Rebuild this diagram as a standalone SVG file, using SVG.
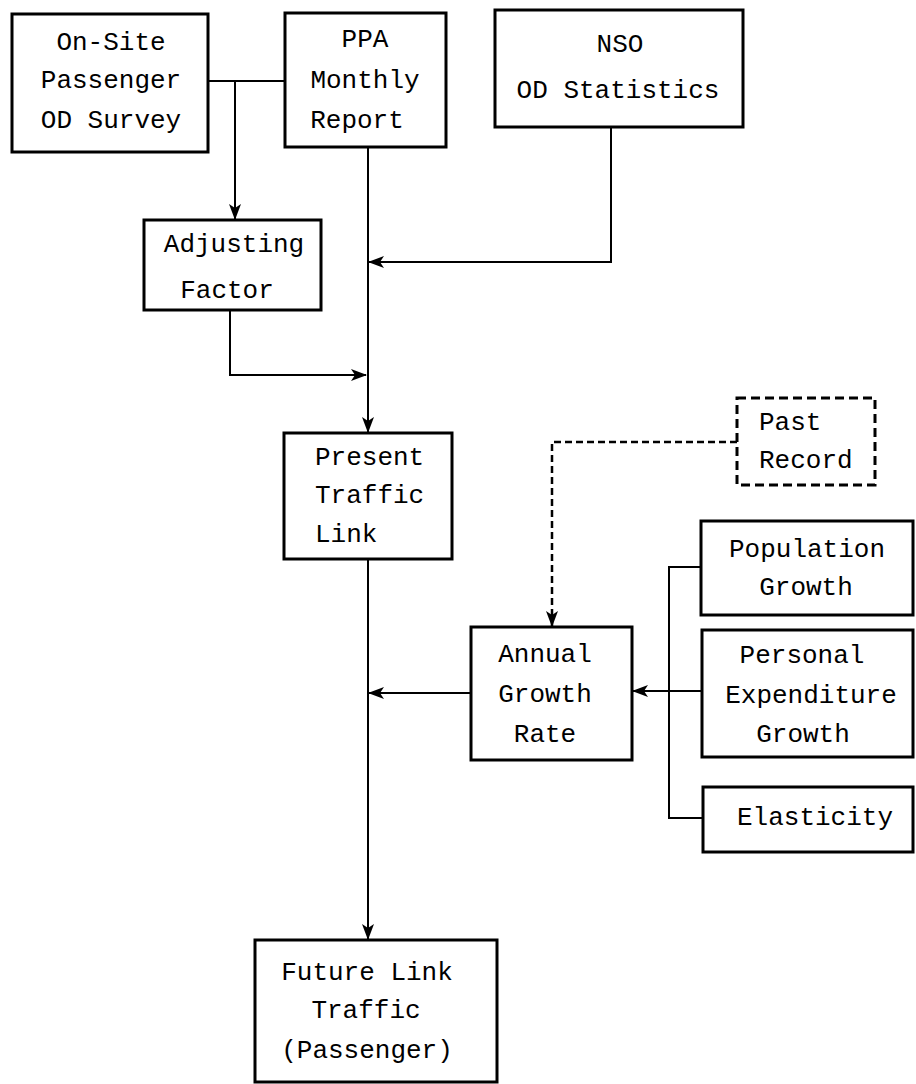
<svg xmlns="http://www.w3.org/2000/svg" width="916" height="1084" viewBox="0 0 916 1084">
<defs>
<style>
.box{fill:#fff;stroke:#000;stroke-width:3}
.dash{fill:#fff;stroke:#000;stroke-width:3;stroke-dasharray:9 5}
.t{font-family:"Liberation Mono","Courier New",monospace;font-size:26px;fill:#000;text-anchor:middle}
.s{text-anchor:start}
.c{fill:none;stroke:#000;stroke-width:2}
.cd{fill:none;stroke:#000;stroke-width:2.5;stroke-dasharray:7 4}
</style>
<marker id="ah" markerUnits="userSpaceOnUse" markerWidth="16" markerHeight="12" viewBox="0 0 16 12" refX="15" refY="6" orient="auto">
<path d="M0,0 L16,6 L0,12 L4,6 Z" fill="#000"/>
</marker>
</defs>
<rect width="916" height="1084" fill="#fff"/>
<g id="connectors">
<path class="c" d="M208,81 H285"/>
<path class="c" d="M235,81 V219" marker-end="url(#ah)"/>
<path class="c" d="M368,147 V432" marker-end="url(#ah)"/>
<path class="c" d="M611,127 V262 H369" marker-end="url(#ah)"/>
<path class="c" d="M230,310 V375 H366" marker-end="url(#ah)"/>
<path class="c" d="M368,559 V939" marker-end="url(#ah)"/>
<path class="c" d="M471,693 H369" marker-end="url(#ah)"/>
<path class="c" d="M702,691 H633" marker-end="url(#ah)"/>
<path class="c" d="M701,567 H669 V818 H703"/>
<path class="cd" d="M737,442 H552 V626" marker-end="url(#ah)"/>
</g>
<g id="onsite">
<rect class="box" x="12" y="14" width="196" height="138"/>
<text class="t" x="111" y="50">On-Site</text>
<text class="t" x="111" y="88">Passenger</text>
<text class="t" x="111" y="128">OD Survey</text>
</g>
<g id="ppa">
<rect class="box" x="285" y="13" width="161" height="134"/>
<text class="t" x="365" y="47">PPA</text>
<text class="t" x="365" y="88">Monthly</text>
<text class="t" x="357" y="128">Report</text>
</g>
<g id="nso">
<rect class="box" x="495" y="10" width="248" height="117"/>
<text class="t" x="620" y="52">NSO</text>
<text class="t" x="618" y="98">OD Statistics</text>
</g>
<g id="adjusting">
<rect class="box" x="144" y="220" width="177" height="90"/>
<text class="t" x="234" y="252">Adjusting</text>
<text class="t" x="227" y="298">Factor</text>
</g>
<g id="present">
<rect class="box" x="284" y="433" width="168" height="126"/>
<text class="t s" x="315" y="465">Present</text>
<text class="t s" x="315" y="503">Traffic</text>
<text class="t s" x="315" y="542">Link</text>
</g>
<g id="past">
<rect class="dash" x="737" y="398" width="138" height="87"/>
<text class="t s" x="759" y="430">Past</text>
<text class="t s" x="759" y="468">Record</text>
</g>
<g id="population">
<rect class="box" x="701" y="521" width="212" height="94"/>
<text class="t" x="807" y="557">Population</text>
<text class="t" x="806" y="595">Growth</text>
</g>
<g id="personal">
<rect class="box" x="702" y="630" width="211" height="127"/>
<text class="t" x="802" y="663">Personal</text>
<text class="t" x="811" y="703">Expenditure</text>
<text class="t" x="803" y="742">Growth</text>
</g>
<g id="elasticity">
<rect class="box" x="703" y="787" width="210" height="65"/>
<text class="t" x="815" y="825">Elasticity</text>
</g>
<g id="annual">
<rect class="box" x="471" y="627" width="161" height="133"/>
<text class="t" x="545" y="662">Annual</text>
<text class="t" x="545" y="702">Growth</text>
<text class="t" x="545" y="742">Rate</text>
</g>
<g id="future">
<rect class="box" x="255" y="940" width="242" height="142"/>
<text class="t" x="367" y="980">Future Link</text>
<text class="t" x="366" y="1018">Traffic</text>
<text class="t" x="367" y="1058">(Passenger)</text>
</g>
</svg>
